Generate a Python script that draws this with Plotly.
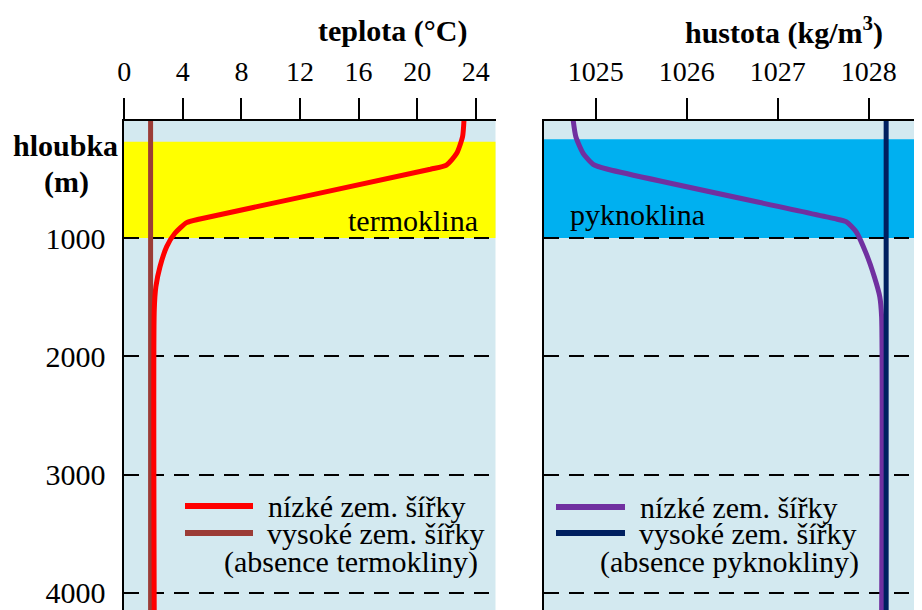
import plotly.graph_objects as go

# ---- data ----
temp_ticks = [0, 4, 8, 12, 16, 20, 24]
dens_ticks = [1025, 1026, 1027, 1028]
depth_ticks = [1000, 2000, 3000, 4000]

depth_low_t = [0, 144, 284, 383, 419, 839, 870, 960, 1073, 1243, 1412, 1608, 4250]
temp_low = [23.2, 23.1, 22.7, 22.0, 20.9, 5.17, 4.26, 3.46, 2.9, 2.44, 2.16, 2.05, 2.05]
depth_high_t = [0, 4250]
temp_high = [1.8, 1.8]

depth_low_d = [0, 144, 284, 377, 417, 834, 862, 947, 1130, 1327, 1496, 1665, 4250]
dens_low = [1024.75, 1024.78, 1024.86, 1024.97, 1025.12, 1027.61, 1027.75, 1027.86,
            1027.97, 1028.06, 1028.12, 1028.14, 1028.14]
depth_high_d = [0, 4250]
dens_high = [1028.19, 1028.19]

thermo_band = [186, 1000]
pykno_band = [166, 1000]

FONT = "Liberation Serif, Times New Roman, Times, serif"
RED = "#FF0000"
BROWN = "#9B3C36"
PURPLE = "#7030A0"
NAVY = "#002060"
LIGHT = "#D3E9F0"
YELLOW = "#FFFF00"
CYAN = "#00B0F0"

fig = go.Figure()
fig.add_trace(go.Scatter(x=temp_high, y=depth_high_t, mode="lines",
                         line=dict(color=BROWN, width=5), xaxis="x", yaxis="y", showlegend=False))
fig.add_trace(go.Scatter(x=temp_low, y=depth_low_t, mode="lines",
                         line=dict(color=RED, width=5, shape="spline", smoothing=0.6),
                         xaxis="x", yaxis="y", showlegend=False))
fig.add_trace(go.Scatter(x=dens_low, y=depth_low_d, mode="lines",
                         line=dict(color=PURPLE, width=5, shape="spline", smoothing=0.6),
                         xaxis="x2", yaxis="y2", showlegend=False))
fig.add_trace(go.Scatter(x=dens_high, y=depth_high_d, mode="lines",
                         line=dict(color=NAVY, width=5), xaxis="x2", yaxis="y2", showlegend=False))

W, H = 922, 610
OFF = 8                      # page body margin
top_s, bot_s = 121, H + OFF  # plot top / bottom in screen px
PH = bot_s - top_s
ydom = [0, (H - (top_s - OFF)) / H]
L1s = (123.5, 495.5)
L2s = (544.0, 918.0)
L1 = [(L1s[0] - OFF) / W, (L1s[1] - OFF) / W]
L2 = [(L2s[0] - OFF) / W, (L2s[1] - OFF) / W]

xcommon = dict(side="top", showline=True, linecolor="black", linewidth=2,
               ticks="outside", ticklen=21, tickwidth=2, tickcolor="black",
               showgrid=False, zeroline=False, automargin=False,
               tickfont=dict(family=FONT, size=28, color="black"),
               ticklabelstandoff=6)
ycommon = dict(autorange=False, range=[4212, 11], showline=True, linecolor="black", linewidth=2,
               tickvals=depth_ticks, showgrid=True, gridcolor="black", gridwidth=2,
               griddash="15px,10px", zeroline=False, ticks="outside", ticklen=0,
               automargin=False,
               tickfont=dict(family=FONT, size=30, color="black"))

fig.update_layout(
    width=W, height=H, margin=dict(l=0, r=0, t=0, b=0, autoexpand=False),
    paper_bgcolor="white", plot_bgcolor=LIGHT,
    font=dict(family=FONT, color="black"),
    xaxis=dict(domain=L1, range=[-0.05, 25.35], tickvals=temp_ticks, anchor="y", **xcommon),
    yaxis=dict(domain=ydom, anchor="x", ticklabelstandoff=10, **ycommon),
    xaxis2=dict(domain=L2, range=[1024.43, 1028.54], tickvals=dens_ticks, anchor="y2", **xcommon),
    yaxis2=dict(domain=ydom, anchor="x2", showticklabels=False, **ycommon),
    showlegend=False,
)

shapes = [
    dict(type="rect", xref="x domain", yref="y", x0=0, x1=1, y0=thermo_band[0], y1=thermo_band[1],
         fillcolor=YELLOW, line=dict(width=0), layer="below"),
    dict(type="rect", xref="x2 domain", yref="y2", x0=0, x1=1, y0=pykno_band[0], y1=pykno_band[1],
         fillcolor=CYAN, line=dict(width=0), layer="below"),
]

def ly(py):
    return (bot_s - py) / PH

def lx1(px):
    return (px - L1s[0]) / (L1s[1] - L1s[0])

def lx2(px):
    return (px - L2s[0]) / (L2s[1] - L2s[0])

for (x0, x1, yy, col, ref) in [
    (lx1(185), lx1(253), ly(506), RED, "x"),
    (lx1(185), lx1(253), ly(533), BROWN, "x"),
    (lx2(556), lx2(625), ly(507), PURPLE, "x2"),
    (lx2(556), lx2(625), ly(533), NAVY, "x2"),
]:
    shapes.append(dict(type="line", xref=ref + " domain", yref=("y" if ref == "x" else "y2") + " domain",
                       x0=x0, x1=x1, y0=yy, y1=yy, line=dict(color=col, width=6), layer="above"))
fig.update_layout(shapes=shapes)

tf = dict(family=FONT, size=30, color="black")
ann = []
def a(text, xref, yref, x, y, xanchor="left", font=tf):
    ann.append(dict(text=text, xref=xref, yref=yref, x=x, y=y, xanchor=xanchor,
                    yanchor="middle", showarrow=False, font=font))

def px_(sx):
    return (sx - OFF) / W

def py_(sy):
    return (H - (sy - OFF)) / H

a("<b>teplota (°C)</b>", "paper", "paper", px_(392), py_(31), "center")
a("<b>hustota (kg/m<sup>3</sup>)</b>", "paper", "paper", px_(783.5), py_(31), "center")
a("<b>hloubka</b>", "paper", "paper", px_(65), py_(145), "center")
a("<b>(m)</b>", "paper", "paper", px_(66), py_(182), "center")
a("termoklina", "x domain", "y domain", lx1(480), ly(220), "right")
a("pyknoklina", "x2 domain", "y2 domain", lx2(568), ly(214), "left")
a("nízké zem. šířky", "x domain", "y domain", lx1(266), ly(506))
a("vysoké zem. šířky", "x domain", "y domain", lx1(265), ly(533))
a("(absence termokliny)", "x domain", "y domain", lx1(222), ly(562))
a("nízké zem. šířky", "x2 domain", "y2 domain", lx2(638), ly(507))
a("vysoké zem. šířky", "x2 domain", "y2 domain", lx2(637), ly(533))
a("(absence pyknokliny)", "x2 domain", "y2 domain", lx2(598), ly(562))
fig.update_layout(annotations=ann)

fig.write_html("out.html")
